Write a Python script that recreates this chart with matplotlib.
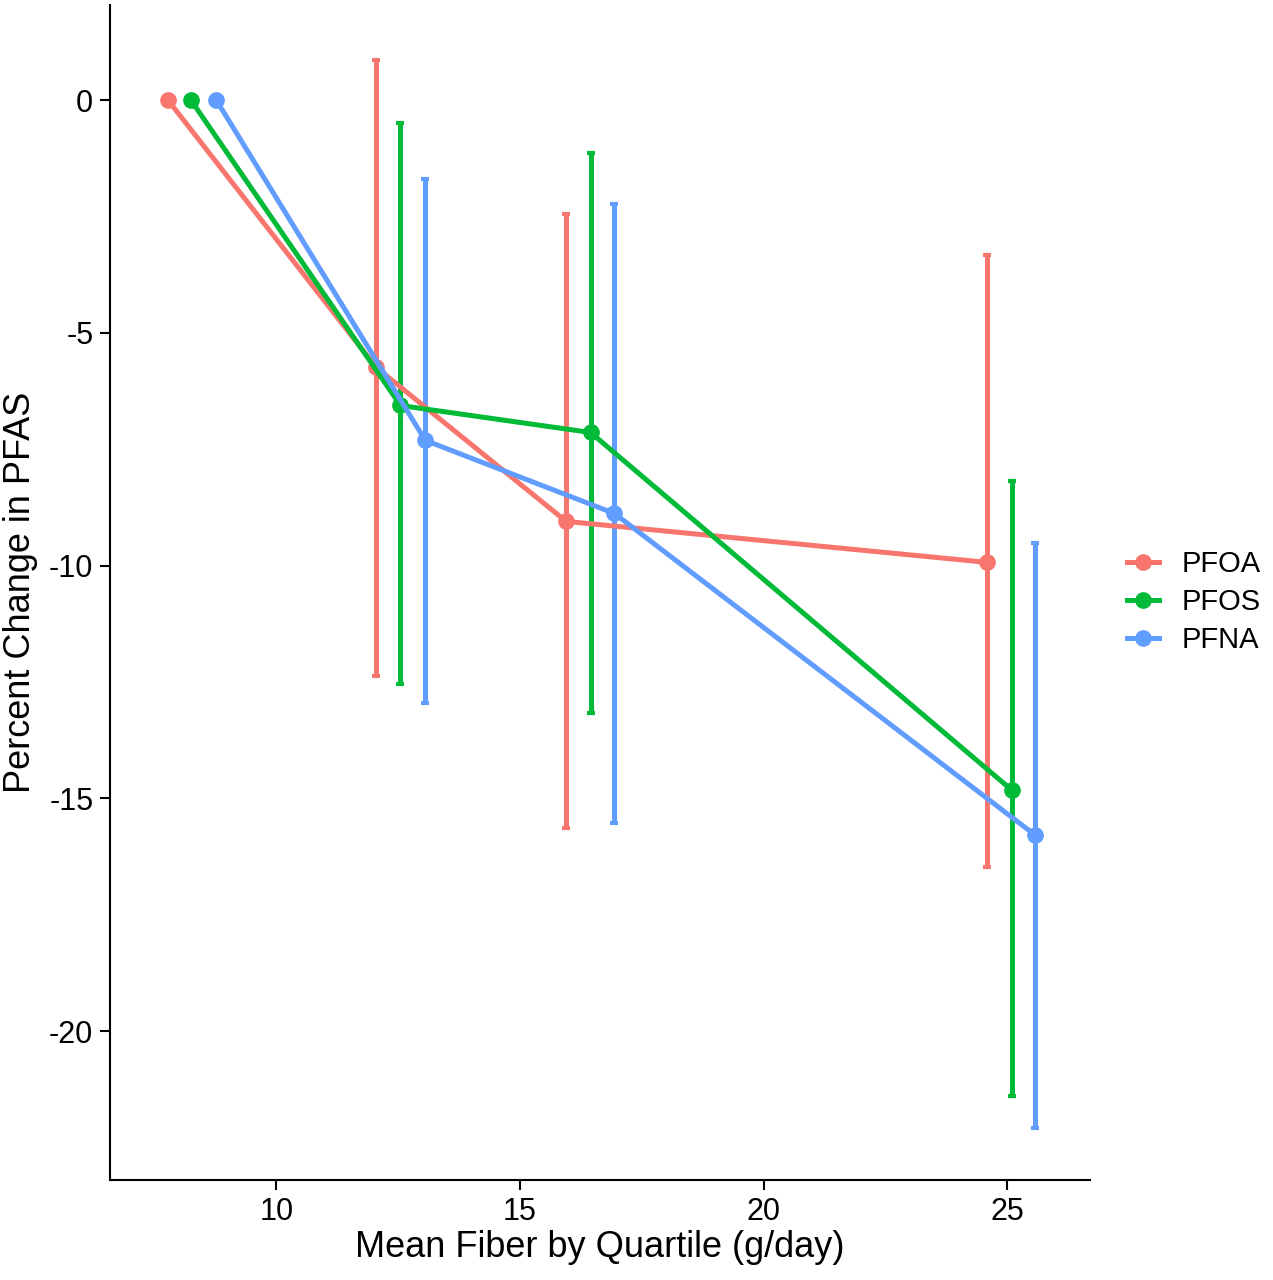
import matplotlib.pyplot as plt

plt.rcParams['font.family'] = ['Liberation Sans', 'DejaVu Sans']
plt.rcParams['axes.unicode_minus'] = False

compounds = ['PFOA', 'PFOS', 'PFNA']
colors = ['#F8766D', '#00BA38', '#619CFF']

# mean fiber (dodged positions) per quartile
fiber = {
    'PFOA': [7.78, 12.05, 15.95, 24.58],
    'PFOS': [8.25, 12.55, 16.45, 25.09],
    'PFNA': [8.77, 13.06, 16.94, 25.56],
}
pct_change = {
    'PFOA': [0.0, -5.74, -9.05, -9.93],
    'PFOS': [0.0, -6.56, -7.14, -14.82],
    'PFNA': [0.0, -7.31, -8.88, -15.78],
}
ci_low = {
    'PFOA': [None, -12.37, -15.63, -16.47],
    'PFOS': [None, -12.54, -13.16, -21.40],
    'PFNA': [None, -12.95, -15.53, -22.09],
}
ci_high = {
    'PFOA': [None, 0.86, -2.45, -3.33],
    'PFOS': [None, -0.49, -1.14, -8.19],
    'PFNA': [None, -1.70, -2.24, -9.51],
}

fig = plt.figure(figsize=(12.73, 12.80), dpi=100)
ax = fig.add_axes([0.0864, 0.078, 0.77, 0.918])

for name, col in zip(compounds, colors):
    xs = fiber[name]
    ys = pct_change[name]
    ax.plot(xs, ys, color=col, lw=3.6, marker='o', ms=11, label=name, zorder=3)
    for x, y, lo, hi in zip(xs, ys, ci_low[name], ci_high[name]):
        if lo is None:
            continue
        ax.errorbar([x], [y], yerr=[[y - lo], [hi - y]], fmt='none', ecolor=col,
                    elinewidth=3.6, capsize=3, capthick=3, zorder=2)

ax.set_xlim(6.59, 26.7)
ax.set_ylim(-23.2, 2.04)
ax.set_xticks([10, 15, 20, 25])
ax.set_yticks([0, -5, -10, -15, -20])
ax.tick_params(labelsize=22, length=7, width=1.5, colors='black', pad=5)
for s in ['top', 'right']:
    ax.spines[s].set_visible(False)
for s in ['left', 'bottom']:
    ax.spines[s].set_linewidth(1.5)

ax.set_xlabel('Mean Fiber by Quartile (g/day)', fontsize=26, labelpad=2)
ax.set_ylabel('Percent Change in PFAS', fontsize=26, labelpad=8)

ax.legend(loc='center left', bbox_to_anchor=(1.011, 0.492), frameon=False,
          fontsize=21, handlelength=1.1, handletextpad=0.75, labelspacing=0.35)

fig.savefig('out.png', dpi=100)
